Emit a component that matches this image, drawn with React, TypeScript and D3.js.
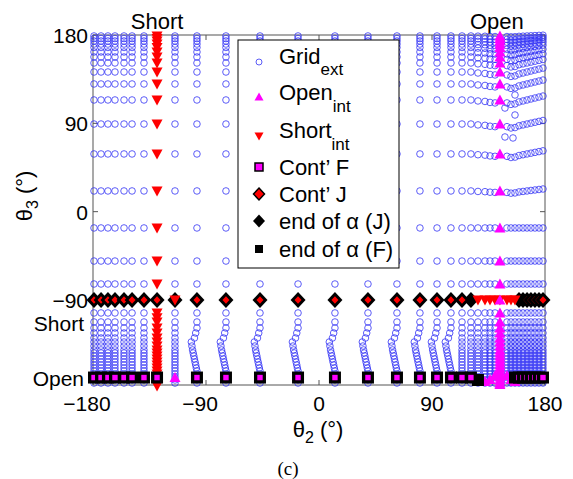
import React from "react";
import * as d3 from "d3";

type Pt = [number, number];

// theta2 columns (deg)
const leftCols = [-179.2, -173.6, -168.1, -162.5, -155.3, -148.9, -139.4];
const shortCol = -129.0;
const midCols = [-114.7, -97.2, -74.1, -47.0, -16.7, 12.7, 39.0, 62.1, 80.4, 94.0, 105.1, 113.9, 121.0];
const kinkCols = [-97.2, -74.1, -47.0, -16.7, 12.7, 39.0, 62.1, 80.4, 94.0, 105.1];
const nearOpenCols = [126.6, 132.2, 136.2, 140.2];
const openCol = 144.1;
const rightCols = [149.7, 152.9, 156.1, 159.3, 162.5, 165.7, 168.8, 172.0, 175.2, 178.4];

// theta3 rows (deg)
const upperRows = [179.0, 176.4, 173.9, 170.8, 167.3, 162.7, 157.6, 151.5, 142.3, 130.1, 113.8, 89.3, 58.8, 21.1, -16.6, -50.3, -73.7];
const lowerRows = [-103.2, -112.4, -118.5, -123.6, -128.7, -132.8, -136.9, -140.9, -144.0, -147.0, -150.1, -153.2, -156.2, -159.3, -162.3, -165.4, -168.4, -171.5, -174.6];
const shortLowerRows = [-103.2, -108, -112.4, -118.5, -123.6, -128.7, -132.8, -136.9, -140.9, -144.0, -147.0, -150.1, -153.2, -156.2, -159.3, -162.3, -165.4, -168.4, -171.5, -174.6, -177.5];
// sideways kink of the middle columns, per lower row
const kinkShift = [0, 0, 0, -1, -2, -4.5, -4, -3.5, -3, -2.5, -2, -1.5, -1, -0.5, 0, 0, 0, 0, 0];
// row bending near the Open column (upper part)
const nearOpenSag = [-1, -1.5, -2.5, -3];
const rightDip = [-3, -4.5, -4, -2, -1, 0, 1, 2, 3, 4];
const dipScale = [0.2, 0.3, 0.4, 0.5, 0.6, 0.7, 0.8, 0.9, 1, 1, 1, 0.9, 0.8, 0.5, 0, 0, 0];
const branchPts: Pt[] = [[148.1, 76.1], [154.5, 75.1], [148.1, 105.6], [156.1, 98.5], [156.1, 118.9]];

// special rows
const rowJ = -90;
const rowF = -169;
const contJCols = [...leftCols, shortCol, -97.2, -74.1, -47.0, -16.7, 12.7, 39.0, 62.1, 80.4, 94.0, 105.1, 113.9, 165.7, 168.8, 172.0, 175.2, 178.4];
const endJCols = [-114.7, 121.0, 159.3, 162.5];
const shortRowJCols = [-114.7, 126.6, 132.2, 136.2, 140.2, 144.1, 149.7, 152.9, 156.1];
const contFCols = [...leftCols, shortCol, -97.2, -74.1, -47.0, -16.7, 12.7, 39.0, 62.1, 80.4, 94.0, 105.1, 113.9, 121.0, 159.3, 162.5, 165.7, 168.8, 172.0, 175.2, 178.4];
const endFPts: Pt[] = [[126.6, -171.5], [156.1, -169]];
const openBottom: Pt[] = [[-114.7, -169], [132.2, -173], [136.2, -171], [140.2, -167], [149.7, -167], [152.9, -171], [156.1, -173], [144.1, -176]];

const xTicks = [-180, -90, 0, 90, 180];
const yTicks = [180, 90, 0, -90];
const yTextTicks: [string, number][] = [["Short", -113], ["Open", -169]];

const font = "'Liberation Sans', Arial, sans-serif";
const axisColor = "#555";

const x = d3.scaleLinear().domain([-180, 180]).range([93, 545]);
const y = d3.scaleLinear().domain([-176.6, 180]).range([385, 35]);

const triUp = "M0,-5.5L5.5,4.5L-5.5,4.5Z";
const triDown = "M0,5.5L5.5,-4.5L-5.5,-4.5Z";
const diamondBig = "M0,-8L7.5,0L0,8L-7.5,0Z";
const diamondSmall = "M0,-3.8L3.5,0L0,3.8L-3.5,0Z";

function buildGrid(): Pt[] {
  const pts: Pt[] = [];
  upperRows.forEach((r, i) => {
    [...leftCols, ...midCols].forEach((c) => pts.push([c, r]));
    nearOpenCols.forEach((c, j) => pts.push([c, r + nearOpenSag[j] * dipScale[i]]));
    rightCols.forEach((c, j) => pts.push([c, r + rightDip[j] * dipScale[i]]));
  });
  branchPts.forEach((p) => pts.push(p));
  lowerRows.forEach((r, i) => {
    leftCols.forEach((c) => pts.push([c, r]));
    midCols.forEach((c) => pts.push([kinkCols.includes(c) ? c + kinkShift[i] : c, r]));
    nearOpenCols.forEach((c) => pts.push([c, r]));
    rightCols.forEach((c) => pts.push([c, r]));
  });
  return pts;
}

export default function App() {
  const grid = buildGrid();
  const shortPts: Pt[] = [
    ...upperRows.map((r) => [shortCol, r] as Pt),
    ...shortLowerRows.map((r) => [shortCol, r] as Pt),
    ...shortRowJCols.map((c) => [c, rowJ] as Pt),
  ];
  const openPts: Pt[] = [
    ...upperRows.map((r) => [openCol, r] as Pt),
    [openCol, rowJ],
    ...lowerRows.map((r) => [openCol, r] as Pt),
    ...openBottom,
  ];

  const legendItems = [
    { label: "Grid", sub: "ext", y: 64, subDy: 11 },
    { label: "Open", sub: "int", y: 100, subDy: 12 },
    { label: "Short", sub: "int", y: 138, subDy: 12 },
    { label: "Cont\u2019 F", sub: "", y: 175, subDy: 0 },
    { label: "Cont\u2019 J", sub: "", y: 202, subDy: 0 },
    { label: "end of \u03b1 (J)", sub: "", y: 229, subDy: 0 },
    { label: "end of \u03b1 (F)", sub: "", y: 257, subDy: 0 },
  ];

  return (
    <svg width={573} height={479} style={{ position: "absolute", left: 0, top: 0, background: "#fff" }} fontFamily={font}>
      {/* frame */}
      <rect x={93} y={35} width={452} height={350} fill="none" stroke={axisColor} strokeWidth={1} />
      {xTicks.map((t) => (
        <g key={"xt" + t}>
          <line x1={x(t)} x2={x(t)} y1={385} y2={380} stroke={axisColor} />
          <line x1={x(t)} x2={x(t)} y1={35} y2={40} stroke={axisColor} />
          <text x={x(t) + (t < 0 ? -6 : 0)} y={411} fontSize={21} textAnchor="middle">
            {t < 0 ? "\u2212" + Math.abs(t) : t}
          </text>
        </g>
      ))}
      {yTicks.map((t) => (
        <g key={"yt" + t}>
          <line x1={93} x2={98} y1={y(t)} y2={y(t)} stroke={axisColor} />
          <line x1={545} x2={540} y1={y(t)} y2={y(t)} stroke={axisColor} />
          <text x={88} y={y(t) + 8} fontSize={21} textAnchor="end">
            {t < 0 ? "\u2212" + Math.abs(t) : t}
          </text>
        </g>
      ))}
      {yTextTicks.map(([s, v]) => (
        <text key={s} x={84} y={y(v) + 8} fontSize={21} textAnchor="end">
          {s}
        </text>
      ))}
      <text x={x(shortCol)} y={29} fontSize={22} textAnchor="middle">Short</text>
      <text x={x(openCol) - 3} y={29} fontSize={22} textAnchor="middle">Open</text>

      {/* Grid_ext */}
      <g fill="none" stroke="#3434f5" strokeWidth={0.8}>
        {grid.map(([a, b], i) => (
          <circle key={i} cx={x(a)} cy={y(b)} r={3.3} />
        ))}
      </g>
      {/* end of alpha (J) */}
      {endJCols.map((c) => (
        <path key={"ej" + c} d={diamondBig} transform={`translate(${x(c)},${y(rowJ)})`} fill="#000" />
      ))}
      {/* Short_int */}
      {shortPts.map(([a, b], i) => (
        <path key={"s" + i} d={triDown} transform={`translate(${x(a)},${y(b)})`} fill="#ff0000" />
      ))}
      {/* Open_int */}
      {openPts.map(([a, b], i) => (
        <path key={"o" + i} d={triUp} transform={`translate(${x(a)},${y(b)})`} fill="#ff00ff" />
      ))}
      {/* Cont' J */}
      {contJCols.map((c) => (
        <g key={"cj" + c} transform={`translate(${x(c)},${y(rowJ)})`}>
          <path d={diamondBig} fill="#000" />
          <path d={diamondSmall} fill="#ff0000" />
        </g>
      ))}
      {/* end of alpha (F) */}
      {endFPts.map(([a, b]) => (
        <rect key={"ef" + a} x={x(a) - 6} y={y(b) - 6} width={12} height={12} fill="#000" />
      ))}
      {/* Cont' F */}
      {contFCols.map((c) => (
        <g key={"cf" + c} transform={`translate(${x(c)},${y(rowF)})`}>
          <rect x={-6} y={-6} width={12} height={12} fill="#000" />
          <rect x={-2.7} y={-2.7} width={5.4} height={5.4} fill="#ff00ff" />
        </g>
      ))}

      {/* legend */}
      <rect x={238} y={40} width={161} height={228} fill="#fff" stroke="#000" strokeWidth={1} />
      <circle cx={259} cy={62} r={3} fill="none" stroke="#3434f5" strokeWidth={0.8} />
      <path d="M0,-4.5L4.5,3.5L-4.5,3.5Z" transform="translate(259,97)" fill="#ff00ff" />
      <path d="M0,4.5L4.5,-3.5L-4.5,-3.5Z" transform="translate(259,136)" fill="#ff0000" />
      <rect x={255} y={163} width={8} height={8} fill="#ff00ff" stroke="#000" strokeWidth={1.5} />
      <path d="M0,-6L5.5,0L0,6L-5.5,0Z" transform="translate(259,194)" fill="#ff0000" stroke="#000" strokeWidth={1.5} />
      <path d="M0,-6.5L6,0L0,6.5L-6,0Z" transform="translate(259,221)" fill="#000" />
      <rect x={255} y={245} width={8} height={8} fill="#000" />
      {legendItems.map((d) => (
        <text key={d.label} x={279} y={d.y} fontSize={22}>
          {d.label}
          {d.sub && (
            <tspan fontSize={17} dy={d.subDy}>
              {d.sub}
            </tspan>
          )}
        </text>
      ))}

      {/* axis titles */}
      <text transform="translate(32,196) rotate(-90)" fontSize={22} textAnchor="middle">
        θ<tspan fontSize={16} dy={6}>3</tspan>
        <tspan dy={-6}> (°)</tspan>
      </text>
      <text x={318} y={437} fontSize={22} textAnchor="middle">
        θ<tspan fontSize={16} dy={6}>2</tspan>
        <tspan dy={-6}> (°)</tspan>
      </text>
      <text x={288} y={475} fontSize={19} textAnchor="middle" fontFamily="'Liberation Serif', 'Times New Roman', serif">
        (c)
      </text>
    </svg>
  );
}
